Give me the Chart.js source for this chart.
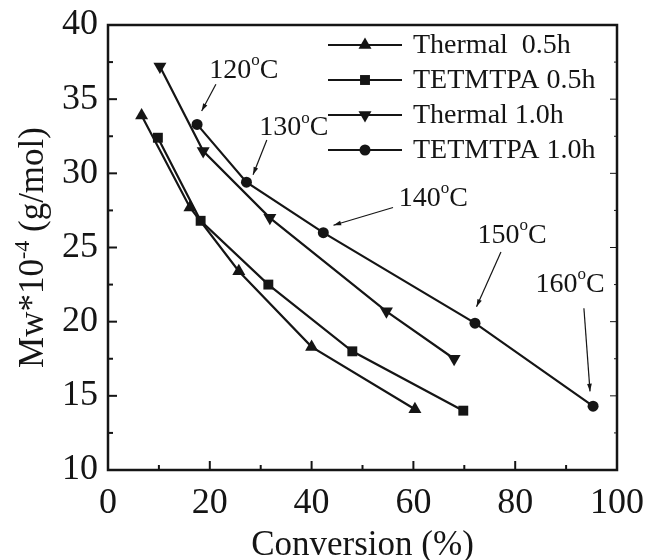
<!DOCTYPE html>
<html>
<head>
<meta charset="utf-8">
<script src="https://cdn.jsdelivr.net/npm/chart.js@4.4.1/dist/chart.umd.min.js"></script>
<style>
  html, body { margin: 0; background: #fff; }
  #wrap { width: 648px; height: 560px; }
</style>
</head>
<body>
<div id="wrap"><canvas id="c"></canvas></div>
<script>
// Mw vs conversion, four runs
const thermal05X = [6.6, 16.1, 25.7, 40.0, 60.3];
const thermal05Y = [33.9, 27.7, 23.4, 18.3, 14.1];
const tet05X = [9.8, 18.2, 31.5, 48.0, 69.8];
const tet05Y = [32.4, 26.8, 22.5, 18.0, 14.0];
const thermal10X = [10.2, 18.7, 31.8, 54.7, 68.0];
const thermal10Y = [37.2, 31.5, 27.0, 20.7, 17.5];
const tet10X = [17.5, 27.2, 42.3, 72.1, 95.3];
const tet10Y = [33.3, 29.4, 26.0, 19.9, 14.3];

const seriesNames = ['Thermal  0.5h', 'TETMTPA 0.5h', 'Thermal 1.0h', 'TETMTPA 1.0h'];
const xTicks = [0, 20, 40, 60, 80, 100];
const yTicks = [10, 15, 20, 25, 30, 35, 40];

// temperature notes on the TETMTPA 1.0h curve (text spot, arrow tail, arrow head)
const tempLabels = ['120', '130', '140', '150', '160'];
const tempTextAt = [[26.7, 36.9], [36.5, 33.05], [63.9, 28.3], [79.4, 25.8], [90.8, 22.5]];
const arrowFrom = [[21.2, 36.0], [31.2, 32.25], [56.0, 27.7], [77.2, 24.7], [93.5, 20.9]];
const arrowTo = [[18.4, 34.2], [28.5, 29.9], [44.3, 26.5], [72.4, 21.0], [94.7, 15.3]];

const INK = '#151515';
const SERIF = "'Liberation Serif', 'Times New Roman', serif";

const pts = (xs, ys) => xs.map((x, i) => ({ x, y: ys[i] }));

const markers = [
  { pointStyle: 'triangle', radius: 7.5, rotation: 0 },
  { pointStyle: 'rect', radius: 7, rotation: 0 },
  { pointStyle: 'triangle', radius: 7.5, rotation: 180 },
  { pointStyle: 'circle', radius: 5.5, rotation: 0 },
];

const dataSets = [
  pts(thermal05X, thermal05Y),
  pts(tet05X, tet05Y),
  pts(thermal10X, thermal10Y),
  pts(tet10X, tet10Y),
];

const frame = {
  id: 'frame',
  afterDraw(chart) {
    const { ctx, chartArea: a, scales: { x, y } } = chart;
    ctx.save();
    ctx.strokeStyle = INK;
    ctx.lineCap = 'butt';
    const seg = (x1, y1, x2, y2) => { ctx.beginPath(); ctx.moveTo(x1, y1); ctx.lineTo(x2, y2); ctx.stroke(); };

    // inward ticks
    ctx.lineWidth = 2;
    for (let v = 10; v < 100; v += 10) {
      const p = x.getPixelForValue(v), len = v % 20 ? 5 : 9;
      seg(p, a.bottom, p, a.bottom - len);
    }
    for (let v = 12.5; v < 40; v += 2.5) {
      const p = y.getPixelForValue(v), len = v % 5 ? 5 : 9;
      seg(a.left, p, a.left + len, p);
      ctx.lineWidth = 1;
      seg(a.right, p, a.right - len + 2, p);
      ctx.lineWidth = 2;
    }

    // box
    ctx.lineWidth = 2.5;
    ctx.strokeRect(a.left, a.top, a.right - a.left, a.bottom - a.top);

    // y title with superscript
    ctx.fillStyle = INK;
    ctx.translate(34, (a.top + a.bottom) / 2);
    ctx.rotate(-Math.PI / 2);
    ctx.textBaseline = 'middle';
    const big = '35px ' + SERIF, small = '22px ' + SERIF;
    const parts = [['Mw*10', big, 0], ['-4', small, -11], [' (g/mol)', big, 0]];
    let total = 0;
    parts.forEach(([t, f]) => { ctx.font = f; total += ctx.measureText(t).width; });
    let cx = -total / 2;
    parts.forEach(([t, f, dy]) => { ctx.font = f; ctx.fillText(t, cx, dy); cx += ctx.measureText(t).width; });
    ctx.restore();

    // legend
    ctx.save();
    ctx.strokeStyle = INK;
    ctx.fillStyle = INK;
    const rows = [45, 80, 115, 150];
    seriesNames.forEach((name, i) => {
      const yy = rows[i];
      ctx.lineWidth = 2;
      seg(328, yy, 402, yy);
      Chart.helpers.drawPoint(ctx, { ...markers[i], borderWidth: 0 }, 365, yy);
      ctx.font = '28px ' + SERIF;
      ctx.textAlign = 'left';
      ctx.textBaseline = 'middle';
      ctx.fillText(name, 413, yy + 1);
    });

    // temperature notes with arrows
    tempLabels.forEach((t, i) => {
      const tx = x.getPixelForValue(tempTextAt[i][0]);
      const ty = y.getPixelForValue(tempTextAt[i][1]);
      const bigF = '28px ' + SERIF, supF = '17px ' + SERIF;
      ctx.font = bigF; const w1 = ctx.measureText(t).width, w3 = ctx.measureText('C').width;
      ctx.font = supF; const w2 = ctx.measureText('o').width;
      let sx = tx - (w1 + w2 + w3) / 2;
      ctx.textAlign = 'left';
      ctx.textBaseline = 'middle';
      ctx.font = bigF; ctx.fillText(t, sx, ty); sx += w1;
      ctx.font = supF; ctx.fillText('o', sx, ty - 10); sx += w2;
      ctx.font = bigF; ctx.fillText('C', sx, ty);

      const x1 = x.getPixelForValue(arrowFrom[i][0]), y1 = y.getPixelForValue(arrowFrom[i][1]);
      const x2 = x.getPixelForValue(arrowTo[i][0]), y2 = y.getPixelForValue(arrowTo[i][1]);
      ctx.lineWidth = 1.2;
      seg(x1, y1, x2, y2);
      const ang = Math.atan2(y2 - y1, x2 - x1), L = 8, W = 0.3;
      ctx.beginPath();
      ctx.moveTo(x2, y2);
      ctx.lineTo(x2 - L * Math.cos(ang - W), y2 - L * Math.sin(ang - W));
      ctx.lineTo(x2 - L * Math.cos(ang + W), y2 - L * Math.sin(ang + W));
      ctx.closePath();
      ctx.fill();
    });
    ctx.restore();
  }
};

new Chart(document.getElementById('c'), {
  type: 'line',
  data: {
    datasets: dataSets.map((d, i) => ({
      label: seriesNames[i],
      data: d,
      borderColor: INK,
      backgroundColor: INK,
      borderWidth: 2.2,
      pointStyle: markers[i].pointStyle,
      pointRadius: markers[i].radius,
      pointRotation: markers[i].rotation,
      pointBorderWidth: 0,
      pointBackgroundColor: INK,
      tension: 0,
      fill: false,
    })),
  },
  options: {
    responsive: true,
    maintainAspectRatio: false,
    animation: false,
    layout: { padding: { top: 25, right: 31, left: 0, bottom: 0 } },
    plugins: { legend: { display: false }, tooltip: { enabled: false } },
    scales: {
      x: {
        type: 'linear', min: 0, max: 100,
        afterFit: s => { s.height = 90; s.paddingLeft = 0; s.paddingRight = 0; },
        afterBuildTicks: s => { s.ticks = xTicks.map(v => ({ value: v })); },
        grid: { display: false, drawTicks: false },
        border: { display: false },
        ticks: { color: INK, padding: 12, maxRotation: 0, font: { family: SERIF, size: 36 } },
        title: { display: true, text: 'Conversion (%)', color: INK, padding: { top: 0, bottom: 0 }, font: { family: SERIF, size: 35, lineHeight: 0.8 } },
      },
      y: {
        type: 'linear', min: 10, max: 40,
        afterFit: s => { s.width = 108; s.paddingTop = 0; s.paddingBottom = 0; },
        afterBuildTicks: s => { s.ticks = yTicks.map(v => ({ value: v })); },
        grid: { display: false, drawTicks: false },
        border: { display: false },
        ticks: { color: INK, padding: 10, font: { family: SERIF, size: 36 } },
      },
    },
  },
  plugins: [frame],
});
</script>
</body>
</html>
